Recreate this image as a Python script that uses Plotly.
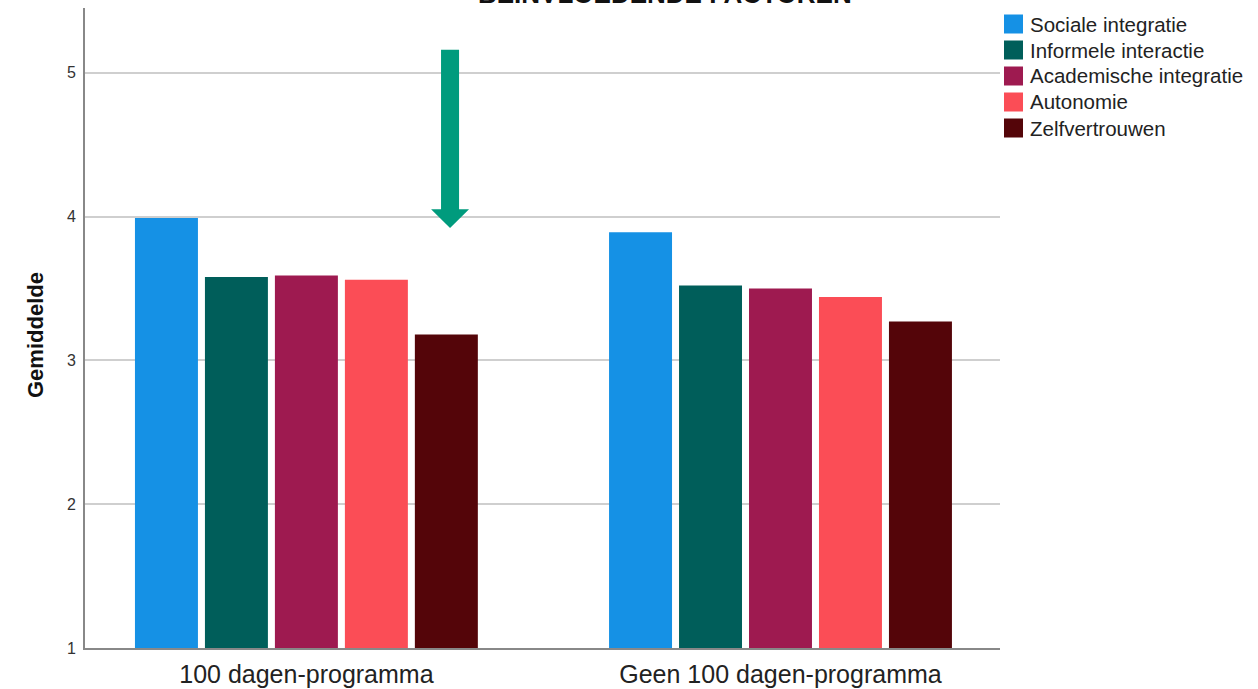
import plotly.graph_objects as go

# Gemiddelde scores per groep en factor
groepen = ["100 dagen-programma", "Geen 100 dagen-programma"]
factoren = ["Sociale integratie", "Informele interactie", "Academische integratie",
            "Autonomie", "Zelfvertrouwen"]
gemiddelden = {
    "Sociale integratie": [3.99, 3.89],
    "Informele interactie": [3.58, 3.52],
    "Academische integratie": [3.59, 3.50],
    "Autonomie": [3.56, 3.44],
    "Zelfvertrouwen": [3.18, 3.27],
}
kleuren = ["#1591E5", "#005E5A", "#9E1A50", "#FB4D56", "#540509"]
y_ticks = [1, 2, 3, 4, 5]

FONT = "Liberation Sans, Arial, sans-serif"

# Plotgebied in pixels (voor de zelfgetekende legenda en astitel)
W, H = 1258, 689
M_L, M_R, M_T, M_B = 85, 258, 8, 41
PW, PH = W - M_L - M_R, H - M_T - M_B


def px_x(px):
    return (px - M_L) / PW


def px_y(py):
    return (H - M_B - py) / PH


fig = go.Figure()
for naam, kleur in zip(factoren, kleuren):
    fig.add_trace(go.Bar(
        name=naam,
        x=groepen,
        y=[v - 1 for v in gemiddelden[naam]],
        base=1,
        marker=dict(color=kleur, line=dict(width=0)),
        showlegend=False,
    ))

# Legenda met grote vierkante kleurvlakken
for i, (naam, kleur) in enumerate(zip(factoren, kleuren)):
    midden = 24 + 26 * i
    fig.add_shape(
        type="rect", xref="paper", yref="paper",
        x0=px_x(1004), x1=px_x(1023), y0=px_y(midden + 9.5), y1=px_y(midden - 9.5),
        fillcolor=kleur, line=dict(width=0),
    )
    fig.add_annotation(
        text=naam, xref="paper", yref="paper", x=px_x(1028), y=px_y(midden),
        xanchor="left", yanchor="middle", showarrow=False,
        font=dict(family=FONT, size=20.5, color="#222222"),
    )

# Astitel van de y-as
fig.add_annotation(
    text="<b>Gemiddelde</b>", xref="paper", yref="paper",
    x=px_x(35), y=px_y(335), xanchor="center", yanchor="middle",
    textangle=-90, showarrow=False,
    font=dict(family=FONT, size=22, color="#111111"),
)

# Pijl boven de eerste groep
ax, ay_top, ay_tip = 0.303, 5.16, 3.92
shaft, head_w, head_h = 0.019, 0.040, 0.13
fig.add_shape(
    type="path", xref="x", yref="y",
    path=(f"M {ax - shaft} {ay_top} L {ax + shaft} {ay_top} "
          f"L {ax + shaft} {ay_tip + head_h} L {ax + head_w} {ay_tip + head_h} "
          f"L {ax} {ay_tip} L {ax - head_w} {ay_tip + head_h} "
          f"L {ax - shaft} {ay_tip + head_h} Z"),
    fillcolor="#009B7D", line=dict(width=0), layer="above",
)

# Titel (valt grotendeels buiten beeld)
fig.add_annotation(
    text="<b>BEÏNVLOEDENDE FACTOREN</b>", xref="paper", yref="paper",
    x=0.634, y=1.0, yanchor="bottom", yshift=-3, showarrow=False,
    font=dict(family=FONT, size=26, color="#111111"),
)

fig.update_layout(
    width=W, height=H,
    margin=dict(l=M_L, r=M_R, t=M_T, b=M_B, autoexpand=False),
    plot_bgcolor="white", paper_bgcolor="white",
    barmode="group", bargap=0.262, bargroupgap=0.1,
    font=dict(family=FONT, color="#222222"),
    showlegend=False,
    xaxis=dict(
        type="category", range=[-0.467, 1.463], automargin=False,
        showline=True, linecolor="#888888", linewidth=2,
        ticks="", tickfont=dict(family=FONT, size=25, color="#222222"),
        ticklabelstandoff=3,
        showgrid=False, zeroline=False,
    ),
    yaxis=dict(
        range=[1, 5.45], tickvals=y_ticks, ticktext=[str(t) for t in y_ticks],
        automargin=False,
        showline=True, linecolor="#888888", linewidth=2,
        showgrid=True, gridcolor="#CFCFCF", gridwidth=2,
        ticks="", ticklen=0, tickfont=dict(family=FONT, size=16, color="#333333"),
        ticklabelstandoff=4,
        zeroline=False,
    ),
)

fig.write_html("out.html")
